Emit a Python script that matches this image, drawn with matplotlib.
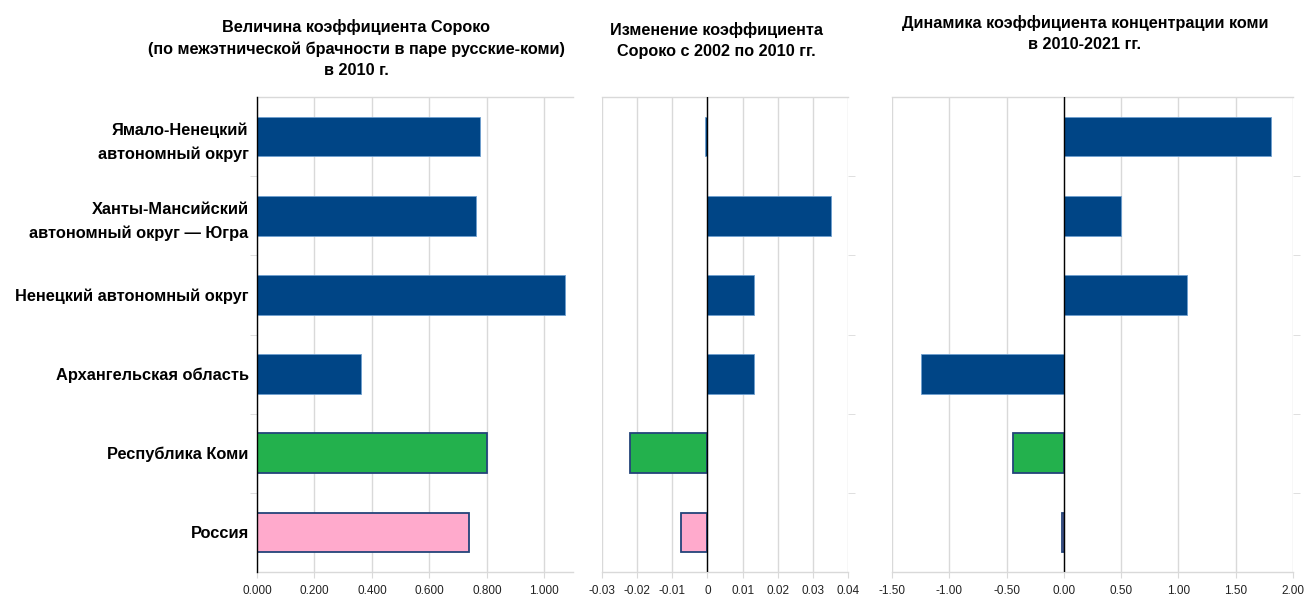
import matplotlib
matplotlib.use("Agg")
import matplotlib.pyplot as plt
from matplotlib.ticker import FixedLocator, FuncFormatter

plt.rcParams['font.family'] = ['Liberation Sans', 'DejaVu Sans']

# Regions, top to bottom
regions = [
    "Ямало-Ненецкий\nавтономный округ",
    "Ханты-Мансийский\nавтономный округ — Югра",
    "Ненецкий автономный округ",
    "Архангельская область",
    "Республика Коми",
    "Россия",
]

# Soroko coefficient (inter-ethnic marriages Russian–Komi), 2010
soroko_2010 = [0.776, 0.762, 1.072, 0.362, 0.802, 0.737]
# Change of the Soroko coefficient, 2002 -> 2010
soroko_change = [-0.0008, 0.0353, 0.0132, 0.0132, -0.0219, -0.0076]
# Dynamics of the Komi concentration coefficient, 2010-2021
komi_conc = [1.811, 0.501, 1.079, -1.251, -0.443, -0.020]

titles = [
    "Величина коэффициента Сороко\n(по межэтнической брачности в паре русские-коми)\nв 2010 г.",
    "Изменение коэффициента\nСороко с 2002 по 2010 гг.",
    "Динамика коэффициента концентрации коми\nв 2010-2021 гг.",
]

NAVY = "#004586"
NAVY_EDGE = "#6e9fd0"
GREEN = "#23b14d"
PINK = "#ffaacc"
DARK_EDGE = "#24447a"
GRID = "#d9d9d9"

fills = [NAVY, NAVY, NAVY, NAVY, GREEN, PINK]
edges = [NAVY_EDGE, NAVY_EDGE, NAVY_EDGE, NAVY_EDGE, DARK_EDGE, DARK_EDGE]
widths = [0.6, 0.6, 0.6, 0.6, 1.3, 1.3]

W, H = 1306, 594
fig = plt.figure(figsize=(W / 100, H / 100), dpi=100)

top, bottom = 97, 572
boxes = [(257, 573), (602, 848), (892, 1293)]
xlims = [(0, 1.1), (-0.03, 0.04), (-1.5, 2.0)]
xticks = [
    [0, 0.2, 0.4, 0.6, 0.8, 1.0],
    [-0.03, -0.02, -0.01, 0, 0.01, 0.02, 0.03, 0.04],
    [-1.5, -1.0, -0.5, 0, 0.5, 1.0, 1.5, 2.0],
]


def fmt1(v, _):
    return f"{v:.3f}".replace(".", ",")


def fmt2(v, _):
    if abs(v) < 1e-12:
        return "0"
    return f"{v:.2f}"


def fmt3(v, _):
    if abs(v) < 1e-12:
        v = 0.0
    return f"{v:.2f}"


formatters = [fmt1, fmt2, fmt3]
series = [soroko_2010, soroko_change, komi_conc]
title_x = [356, 716, 1085]
title_y = [19, 22, 15]

n = len(regions)
ypos = list(range(n))

for k in range(3):
    x0, x1 = boxes[k]
    ax = fig.add_axes([x0 / W, 1 - bottom / H, (x1 - x0) / W, (bottom - top) / H])
    ax.barh(ypos, series[k], height=0.5, color=fills, edgecolor=edges,
            linewidth=widths, zorder=3)
    ax.set_xlim(*xlims[k])
    ax.set_ylim(n - 0.5, -0.5)
    ax.set_xticks(xticks[k])
    ax.xaxis.set_major_formatter(FuncFormatter(formatters[k]))
    ax.tick_params(axis='x', length=4, color=GRID, labelsize=8.5, pad=5,
                   labelcolor="#222222")
    ax.grid(axis='x', color=GRID, linewidth=1.0, zorder=0)
    for s in ("top", "bottom"):
        ax.spines[s].set_color(GRID)
        ax.spines[s].set_linewidth(1.0)
    ax.spines["right"].set_visible(False)

    # category boundaries
    ax.yaxis.set_minor_locator(FixedLocator([i + 0.5 for i in range(n - 1)]))
    if k == 0:
        ax.spines["left"].set_color("black")
        ax.spines["left"].set_linewidth(1.0)
        ax.spines["left"].set_zorder(4)
        ax.set_yticks(ypos)
        ax.set_yticklabels(regions, fontsize=11.8, fontweight="bold",
                           linespacing=1.7)
        ax.tick_params(axis='y', which='major', length=0, pad=6)
        ax.tick_params(axis='y', which='minor', length=5, color=GRID,
                       direction='out', left=True)
    else:
        ax.spines["left"].set_visible(False)
        ax.set_yticks([])
        ax.tick_params(axis='y', which='minor', length=5, color=GRID,
                       direction='out', left=False, right=True)
        ax.axvline(0, color="black", linewidth=1.0, zorder=4)

    fig.text(title_x[k] / W, 1 - title_y[k] / H, titles[k], ha="center",
             va="top", fontsize=11.7, fontweight="bold", linespacing=1.5)

fig.savefig("out.png", dpi=100, facecolor="white")
